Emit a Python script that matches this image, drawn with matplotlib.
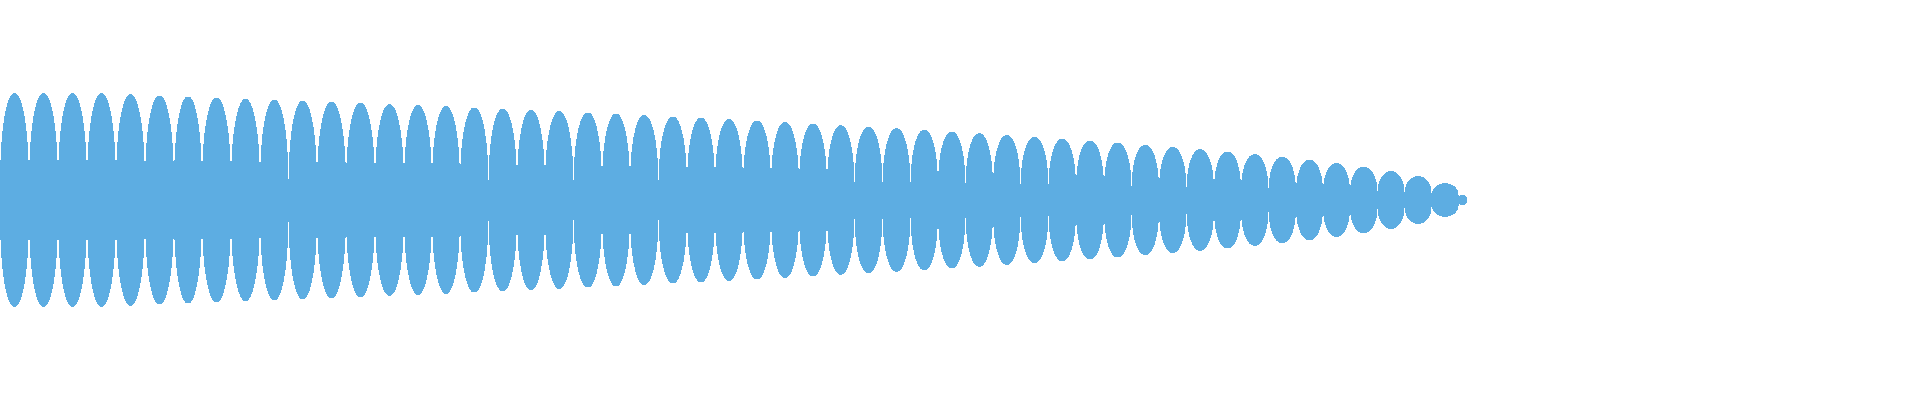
import matplotlib
matplotlib.use("Agg")
import matplotlib.pyplot as plt
from matplotlib.patches import Polygon
import numpy as np

# node positions (where neighbouring lobes meet)
nodes = [0, 29, 58, 87, 116, 145, 174, 202, 231, 260, 288.5, 317, 346, 375,
         404, 432, 460, 488.5, 517, 545, 573.5, 602, 630, 658.5, 687, 715,
         743, 771, 799, 827, 854.5, 882.5, 910.5, 938, 965.5, 993, 1020.5,
         1048.5, 1076, 1104, 1131.5, 1159, 1186.5, 1214, 1241, 1268.5, 1296,
         1323, 1350, 1377.5, 1404.5, 1431.7, 1458.5, 1467]

# peak amplitude of every lobe (same units as the y axis)
amps = [106.2, 106.2, 106.2, 106.2, 105.3, 104.0, 103.0, 101.8, 100.5, 99.7,
        98.8, 97.7, 96.5, 95.2,
        94.3, 93.3, 92.0, 90.7, 89.5, 88.3, 87.0, 85.8, 84.3, 83.0,
        81.8, 80.3, 78.8, 77.3,
        75.8, 74.2, 72.5, 71.2, 69.7, 68.0, 66.2, 64.3, 62.5, 60.8,
        59.0, 57.0, 54.5, 52.5,
        50.3, 48.0, 45.3, 42.7, 39.7, 36.2, 32.7, 28.3, 23.3, 16.2, 4.7]

# half height of the solid middle band under each lobe
band = [22.5, 22.5, 22.5, 22.5, 22, 22, 22, 22, 22, 21.5, 21.5, 21.5, 21, 21,
        21, 21, 20.5, 20.5, 20.5, 20, 20, 20, 20, 19.5, 19.5, 19.5, 19, 19,
        19, 18.5, 18.5, 18, 18, 17.5, 17, 16.5, 16, 15.5, 15, 14.5, 14, 13.5,
        13, 12.5, 12, 11, 10, 9.5, 9, 8, 7, 5.5, 1]

color = "#5DADE2"

fig = plt.figure(figsize=(19.2, 4), dpi=100)
ax = fig.add_axes([0, 0, 1, 1])

nodes_arr = np.array(nodes)
centers = (nodes_arr[:-1] + nodes_arr[1:]) / 2
widths = np.diff(nodes_arr)

# solid middle band, one step per lobe
band_step = np.append(band, band[-1])
ax.fill_between(nodes_arr, -band_step, band_step, step="post",
                color=color, linewidth=0, antialiased=False)

# lobe outline: elliptical cap sitting on the middle band
u = np.linspace(-1, 1, 161)
cap = np.sqrt(1 - u ** 2)

for cx, w, a, b in zip(centers, widths, amps, band):
    xs = cx + u * (w / 2 - 0.7)
    env = b + (a - b) * cap
    top = np.column_stack([xs, env])
    bot = np.column_stack([xs[::-1], -env[::-1]])
    ax.add_patch(Polygon(np.vstack([top, bot]), closed=True,
                         facecolor=color, edgecolor="none",
                         antialiased=False))

ax.set_xlim(0, 1920)
ax.set_ylim(-200, 200)
ax.axis("off")

fig.savefig("out.png", dpi=100, facecolor="white")
